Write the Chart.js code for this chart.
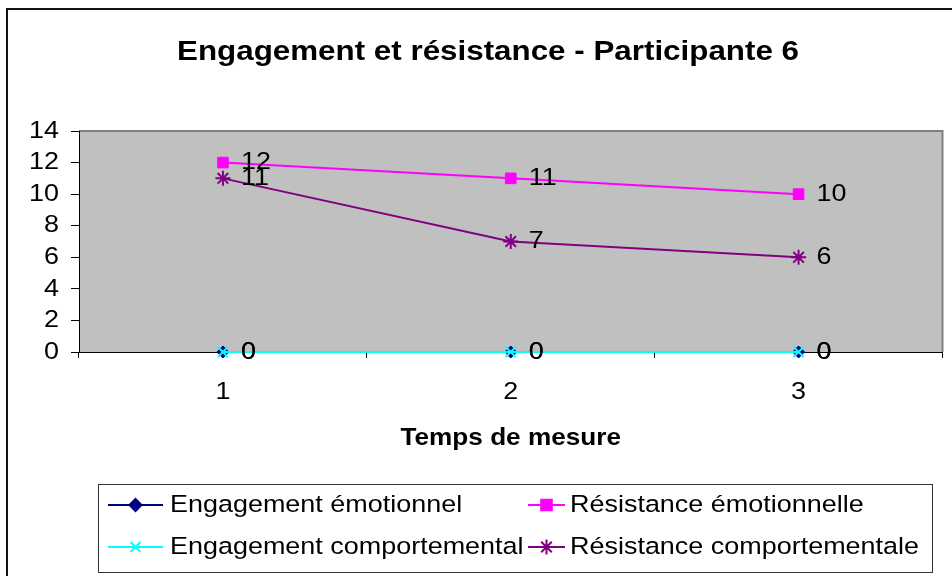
<!DOCTYPE html>
<html lang="fr">
<head>
<meta charset="utf-8">
<title>Engagement et résistance - Participante 6</title>
<script src="https://cdn.jsdelivr.net/npm/chart.js@4/dist/chart.umd.min.js"></script>
<style>
    html, body { margin: 0; padding: 0; background: #fff; }
    #wrap { width: 952px; height: 576px; }
</style>
</head>
<body>
<div id="wrap"><canvas id="chart" width="952" height="576"></canvas></div>
<script>
const mesures = ['1', '2', '3'];
const engagementEmotionnel = [0, 0, 0];
const resistanceEmotionnelle = [12, 11, 10];
const engagementComportemental = [0, 0, 0];
const resistanceComportementale = [11, 7, 6];

const yMin = 0;
const yMax = 14;
const yStep = 2;

const titre = 'Engagement et résistance - Participante 6';
const titreAxeX = 'Temps de mesure';

const FONT = 'Arial, "Liberation Sans", sans-serif';
// text in this chart is set slightly wide, so every string gets a small horizontal stretch
const SX = 1.1;

function wideText(ctx, text, x, y, font, align) {
    ctx.save();
    ctx.font = font;
    ctx.fillStyle = '#000';
    ctx.textAlign = align;
    ctx.textBaseline = 'middle';
    ctx.translate(x, y);
    ctx.scale(SX, 1);
    ctx.fillText(text, 0, 0);
    ctx.restore();
}

// grey plot area, outer frame and the chart title
const frame = {
    id: 'frame',
    beforeDraw(chart) {
        const { ctx, chartArea: a } = chart;
        ctx.save();
        ctx.fillStyle = '#fff';
        ctx.fillRect(0, 0, chart.width, chart.height);
        ctx.strokeStyle = '#111';
        ctx.lineWidth = 2;
        ctx.strokeRect(7, 9, chart.width + 20, chart.height + 20);
        ctx.fillStyle = '#c0c0c0';
        ctx.fillRect(a.left, a.top, a.right - a.left, a.bottom - a.top);
        ctx.strokeStyle = '#808080';
        ctx.lineWidth = 2;
        ctx.beginPath();
        ctx.moveTo(a.left, a.top);
        ctx.lineTo(a.right, a.top);
        ctx.lineTo(a.right, a.bottom);
        ctx.stroke();
        ctx.restore();
        wideText(ctx, titre, 488, 52, 'bold 28.5px ' + FONT, 'center');
    }
};

// tick labels and axis title, placed from the scales
const axisText = {
    id: 'axisText',
    afterDraw(chart) {
        const ctx = chart.ctx;
        const x = chart.scales.x;
        const y = chart.scales.y;
        const f = '24.5px ' + FONT;
        y.ticks.forEach((t, i) => {
            wideText(ctx, String(t.value), y.right - 20, y.getPixelForTick(i), f, 'right');
        });
        x.ticks.forEach((t, i) => {
            wideText(ctx, x.getLabelForValue(t.value), x.getPixelForTick(i), 392, f, 'center');
        });
        wideText(ctx, titreAxeX, (x.left + x.right) / 2, 438, 'bold 23.8px ' + FONT, 'center');
    }
};

// value written to the right of each point
const valueLabels = {
    id: 'valueLabels',
    afterDatasetsDraw(chart) {
        const ctx = chart.ctx;
        chart.data.datasets.forEach((ds, i) => {
            chart.getDatasetMeta(i).data.forEach((pt, j) => {
                wideText(ctx, String(ds.data[j]), pt.x + 18, pt.y, '24.5px ' + FONT, 'left');
            });
        });
    }
};

// two-column boxed legend under the axis title
const boxLegend = {
    id: 'boxLegend',
    afterDraw(chart, args, opts) {
        const ctx = chart.ctx;
        const b = opts.box;
        ctx.save();
        ctx.strokeStyle = '#333';
        ctx.lineWidth = 1;
        ctx.strokeRect(b.left + 0.5, b.top + 0.5, b.right - b.left, b.bottom - b.top);
        chart.data.datasets.forEach((ds, i) => {
            const col = opts.columns[i % 2];
            const y = opts.rows[Math.floor(i / 2)];
            ctx.strokeStyle = ds.borderColor;
            ctx.fillStyle = ds.pointBackgroundColor;
            ctx.lineWidth = 2;
            ctx.beginPath();
            ctx.moveTo(col.lineFrom, y);
            ctx.lineTo(col.lineTo, y);
            ctx.stroke();
            ctx.strokeStyle = ds.pointBorderColor;
            Chart.helpers.drawPoint(ctx, {
                pointStyle: ds.pointStyle,
                radius: ds.pointRadius,
                rotation: 0,
                borderWidth: ds.pointBorderWidth
            }, (col.lineFrom + col.lineTo) / 2, y);
            wideText(ctx, ds.label, col.text, y, '24.5px ' + FONT, 'left');
        });
        ctx.restore();
    }
};

function serie(label, data, color, style, radius, width) {
    return {
        label: label,
        data: data,
        borderColor: color,
        backgroundColor: color,
        pointBackgroundColor: color,
        pointBorderColor: color,
        pointStyle: style,
        pointRadius: radius,
        pointBorderWidth: width,
        borderWidth: 2,
        tension: 0,
        fill: false,
        clip: false
    };
}

const datasets = [
    serie('Engagement émotionnel', engagementEmotionnel, '#000080', 'rectRot', 6, 1),
    serie('Résistance émotionnelle', resistanceEmotionnelle, '#ff00ff', 'rect', 7.5, 1),
    serie('Engagement comportemental', engagementComportemental, '#00ffff', 'crossRot', 7, 2),
    serie('Résistance comportementale', resistanceComportementale, '#800080', 'star', 7.5, 2)
];
// cyan zero line sits over the navy one
datasets[2].order = 0;
datasets[0].order = 1;
datasets[1].order = 1;
datasets[3].order = 1;

const chart = new Chart(document.getElementById('chart'), {
    type: 'line',
    data: { labels: mesures, datasets: datasets },
    plugins: [frame, valueLabels, axisText, boxLegend],
    options: {
        responsive: false,
        animation: false,
        events: [],
        layout: { padding: { left: 7, right: 4, top: 131, bottom: 118.4 } },
        plugins: {
            legend: { display: false },
            tooltip: { enabled: false },
            title: { display: false },
            boxLegend: {
                box: { left: 98, top: 484, right: 932, bottom: 572 },
                rows: [505, 547],
                columns: [
                    { lineFrom: 108, lineTo: 163, text: 170 },
                    { lineFrom: 528, lineTo: 565, text: 570 }
                ]
            }
        },
        scales: {
            x: {
                offset: true,
                afterFit(scale) { scale.height = 105.6; },
                grid: {
                    display: true,
                    offset: true,
                    drawOnChartArea: false,
                    tickLength: 6,
                    color: '#000'
                },
                border: { display: true, color: '#000', width: 1 },
                ticks: { display: false },
                title: { display: false }
            },
            y: {
                min: yMin,
                max: yMax,
                afterFit(scale) { scale.width = 72; },
                grid: {
                    display: true,
                    drawOnChartArea: false,
                    tickLength: 8,
                    color: '#000'
                },
                border: { display: true, color: '#000', width: 1 },
                ticks: { display: false, stepSize: yStep, autoSkip: false }
            }
        }
    }
});
</script>
</body>
</html>
